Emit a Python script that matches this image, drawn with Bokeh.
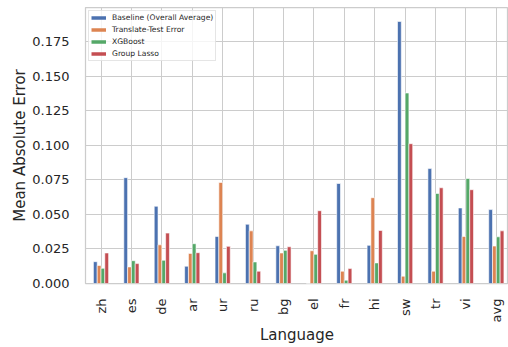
import math
from bokeh.plotting import figure
from bokeh.models import Range1d, FixedTicker, SingleIntervalTicker, NumeralTickFormatter, Legend, LegendItem, ColumnDataSource
from bokeh.embed import file_html
from bokeh.resources import INLINE

languages = ["zh", "es", "de", "ar", "ur", "ru", "bg", "el", "fr", "hi", "sw", "tr", "vi", "avg"]
baseline = [0.0158, 0.0766, 0.0559, 0.0125, 0.0340, 0.0429, 0.0273, 0.0, 0.0724, 0.0276, 0.1897, 0.0832, 0.0547, 0.0535]
translate_test = [0.0130, 0.0120, 0.0280, 0.0218, 0.0731, 0.0381, 0.0221, 0.0237, 0.0089, 0.0621, 0.0053, 0.0089, 0.0340, 0.0271]
xgboost = [0.0110, 0.0165, 0.0168, 0.0288, 0.0077, 0.0156, 0.0240, 0.0211, 0.0024, 0.0149, 0.1379, 0.0652, 0.0760, 0.0338]
group_lasso = [0.0221, 0.0144, 0.0365, 0.0223, 0.0269, 0.0089, 0.0266, 0.0527, 0.0108, 0.0384, 0.1012, 0.0693, 0.0679, 0.0381]

series_names = ["Baseline (Overall Average)", "Translate-Test Error", "XGBoost", "Group Lasso"]
series_values = [baseline, translate_test, xgboost, group_lasso]
colors = ["#4C72B0", "#DD8452", "#55A868", "#C44E52"]

TEXT = "#262626"
GRID = "#cccccc"
FONT = "DejaVu Sans"

p = figure(width=508, height=347, output_backend="svg", toolbar_location=None,
           x_range=Range1d(-0.51, 13.4), y_range=Range1d(0, 0.1998),
           min_border_left=85, min_border_right=0, min_border_top=7, min_border_bottom=62)

n = len(series_values)
bw = 0.5 / n
idx = list(range(len(languages)))
items = []
for k, (name, vals, c) in enumerate(zip(series_names, series_values, colors)):
    off = (k - (n - 1) / 2) * bw
    src = ColumnDataSource(dict(x=[i + off for i in idx], top=vals))
    p.vbar(x="x", top="top", bottom=0, width=bw, source=src,
           fill_color=c, line_color="white", line_width=0.6)
    dummy = p.line(x=[-5, -4], y=[-1, -1], line_color=c, line_width=3.5)
    items.append(LegendItem(label=name, renderers=[dummy]))

legend = Legend(items=items, location="top_left", margin=3, padding=2,
                spacing=3, label_height=9, glyph_height=9, glyph_width=15,
                label_standoff=6, label_text_font=FONT, label_text_font_size="7.6px",
                label_text_color=TEXT, border_line_color=GRID, border_line_width=1,
                background_fill_alpha=0.8)
p.add_layout(legend, "center")

p.xaxis.ticker = FixedTicker(ticks=idx)
p.xaxis.major_label_overrides = {i: l for i, l in enumerate(languages)}
p.xaxis.major_label_orientation = math.pi / 2
p.yaxis.ticker = SingleIntervalTicker(interval=0.025)
p.yaxis.formatter = NumeralTickFormatter(format="0.000")

for ax in (p.xaxis[0], p.yaxis[0]):
    ax.axis_line_color = None
    ax.major_tick_line_color = None
    ax.minor_tick_line_color = None
    ax.major_tick_out = 0
    ax.major_tick_in = 0
    ax.major_label_text_font = FONT
    ax.major_label_text_font_size = "13px"
    ax.major_label_text_color = TEXT
    ax.axis_label_text_font = FONT
    ax.axis_label_text_font_size = "15px"
    ax.axis_label_text_font_style = "normal"
    ax.axis_label_text_color = TEXT

p.xaxis.axis_label = "Language"
p.yaxis.axis_label = "Mean Absolute Error"
p.xaxis.major_label_standoff = 15
p.xaxis.axis_label_standoff = 1
p.yaxis.major_label_standoff = 12
p.yaxis.axis_label_standoff = 0

p.xgrid.grid_line_color = GRID
p.ygrid.grid_line_color = GRID
p.xgrid.grid_line_width = 1
p.ygrid.grid_line_width = 1
p.outline_line_color = GRID
p.outline_line_width = 1.25
p.outline_line_alpha = 1
p.background_fill_color = "white"
p.border_fill_color = "white"

open("out.html", "w").write(file_html(p, INLINE))
